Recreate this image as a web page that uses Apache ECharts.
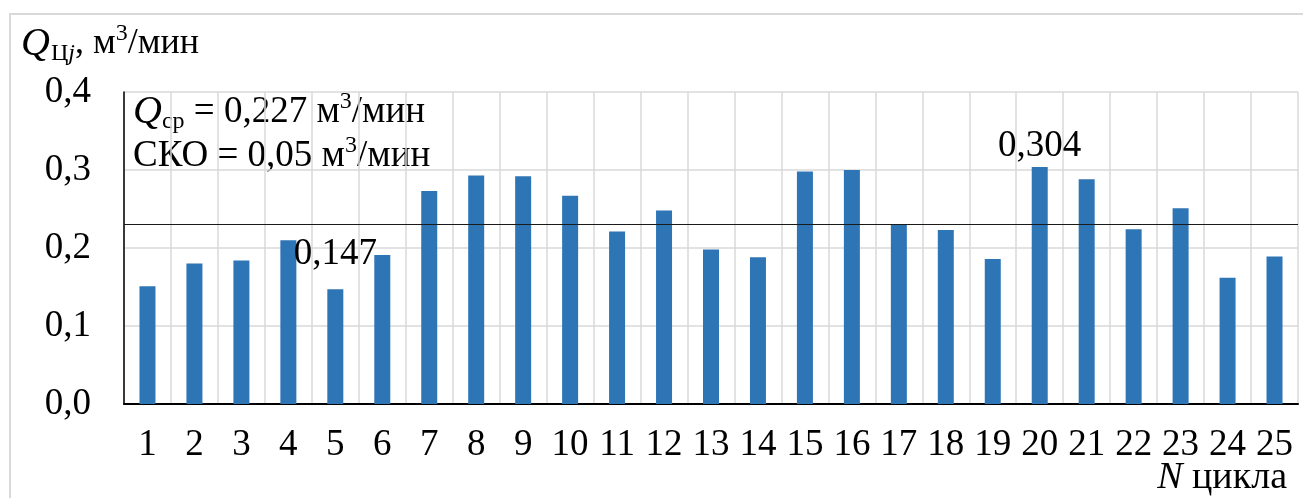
<!DOCTYPE html>
<html>
<head>
<meta charset="utf-8">
<style>
  html, body { margin: 0; padding: 0; background: #fff; }
  #chart { width: 1303px; height: 498px; }
</style>
<script src="https://cdn.jsdelivr.net/npm/echarts@6/dist/echarts.min.js"></script>
</head>
<body>
<div id="chart"></div>
<script>
// Cycle numbers and the measured flow per cycle, m3/min
const cycles = ['1','2','3','4','5','6','7','8','9','10','11','12','13','14','15','16','17','18','19','20','21','22','23','24','25'];
const flow = [0.151, 0.180, 0.184, 0.210, 0.147, 0.191, 0.273, 0.293, 0.292, 0.267, 0.221, 0.248, 0.198,
              0.188, 0.298, 0.300, 0.230, 0.223, 0.186, 0.304, 0.288, 0.224, 0.251, 0.162, 0.189];
const yTicks = [0, 0.1, 0.2, 0.3, 0.4];
const meanFlow = 0.227;
const stdFlow = 0.05;
// cycles whose value is printed above the bar (min and max)
const labelledCycles = ['5', '20'];
const labelGap = { '5': 17, '20': 2 };

const serif = "'Liberation Serif', 'Times New Roman', serif";
const comma = (v, d) => v.toFixed(d).replace('.', ',');

const barData = flow.map((v, i) => {
  const c = cycles[i];
  if (labelledCycles.indexOf(c) < 0) return v;
  return {
    value: v,
    label: {
      show: true, position: 'top', distance: labelGap[c],
      formatter: p => comma(p.value, 3),
      fontFamily: serif, fontSize: 37, color: '#000'
    }
  };
});

const chart = echarts.init(document.getElementById('chart'), null, { renderer: 'canvas' });
chart.setOption({
  animation: false,
  backgroundColor: '#fff',
  grid: { left: 124, right: 5, top: 92, bottom: 94, containLabel: false },
  xAxis: {
    type: 'category',
    data: cycles,
    boundaryGap: true,
    axisLine: { show: true, lineStyle: { color: '#000', width: 2 } },
    axisTick: { show: false },
    axisLabel: { color: '#000', fontFamily: serif, fontSize: 37, margin: 23, interval: 0 },
    splitLine: { show: true, interval: 0, lineStyle: { color: '#d9d9d9', width: 1.5 } }
  },
  yAxis: {
    type: 'value',
    min: yTicks[0], max: yTicks[yTicks.length - 1], interval: 0.1,
    axisLine: { show: true, lineStyle: { color: '#000', width: 1.5 } },
    axisTick: { show: false },
    axisLabel: { color: '#000', fontFamily: serif, fontSize: 37, margin: 33, formatter: v => comma(v, 1) },
    splitLine: { show: true, lineStyle: { color: '#d9d9d9', width: 1.5 } }
  },
  series: [{
    type: 'bar',
    data: barData,
    barWidth: 16,
    itemStyle: { color: '#2E75B6' },
    markLine: {
      silent: true,
      symbol: ['none', 'none'],
      label: { show: false },
      lineStyle: { color: '#1a1a1a', width: 1.2, type: 'solid' },
      data: [{ yAxis: meanFlow }]
    }
  }],
  graphic: [
    {
      type: 'rect', silent: true, z: -10,
      shape: { x: 10, y: 14, width: 1300, height: 500 },
      style: { fill: 'none', stroke: '#d9d9d9', lineWidth: 2 }
    },
    {
      type: 'text', left: 21, top: 22,
      style: {
        text: '{q|Q}{s|Ц}{si|j}{n|, м}{p|3}{n|/мин}',
        fill: '#000',
        rich: {
          q: { fontFamily: serif, fontStyle: 'italic', fontSize: 40, lineHeight: 44, verticalAlign: 'middle' },
          s: { fontFamily: serif, fontSize: 24, lineHeight: 24, verticalAlign: 'bottom', padding: [0, 0, 0, 1] },
          si: { fontFamily: serif, fontStyle: 'italic', fontSize: 24, lineHeight: 24, verticalAlign: 'bottom' },
          n: { fontFamily: serif, fontSize: 36, lineHeight: 44, verticalAlign: 'middle' },
          p: { fontFamily: serif, fontSize: 24, lineHeight: 26, verticalAlign: 'top' }
        }
      }
    },
    {
      type: 'text', left: 133, top: 90,
      style: {
        text: '{q|Q}{s|ср}{n| = ' + comma(meanFlow, 3) + ' м}{p|3}{n|/мин}',
        fill: '#000',
        rich: {
          q: { fontFamily: serif, fontStyle: 'italic', fontSize: 40, lineHeight: 44, verticalAlign: 'middle' },
          s: { fontFamily: serif, fontSize: 24, lineHeight: 22, verticalAlign: 'bottom' },
          n: { fontFamily: serif, fontSize: 37, lineHeight: 44, verticalAlign: 'middle' },
          p: { fontFamily: serif, fontSize: 24, lineHeight: 26, verticalAlign: 'top' }
        }
      }
    },
    {
      type: 'text', left: 133, top: 134,
      style: {
        text: '{n|СКО = ' + comma(stdFlow, 2) + ' м}{p|3}{n|/мин}',
        fill: '#000',
        rich: {
          n: { fontFamily: serif, fontSize: 37, lineHeight: 44, verticalAlign: 'middle' },
          p: { fontFamily: serif, fontSize: 24, lineHeight: 26, verticalAlign: 'top' }
        }
      }
    },
    {
      type: 'text', right: 16, top: 459,
      style: {
        text: '{i|N}{n| цикла}',
        fill: '#000',
        rich: {
          i: { fontFamily: serif, fontStyle: 'italic', fontSize: 38, lineHeight: 40 },
          n: { fontFamily: serif, fontSize: 38, lineHeight: 40 }
        }
      }
    }
  ]
});
</script>
</body>
</html>
